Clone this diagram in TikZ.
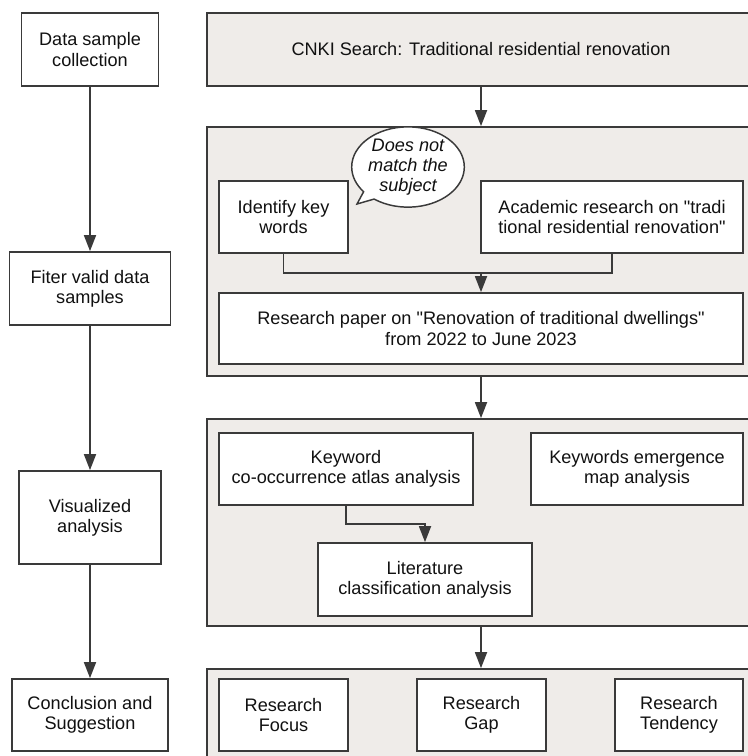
\documentclass[tikz,border=0pt]{standalone}
\usepackage{fontspec}
\setmainfont{Liberation Sans}[Ligatures=TeXOff]
\usetikzlibrary{positioning}
\usetikzlibrary{arrows.meta}
\usetikzlibrary{shapes.callouts}

\definecolor{panelgrey}{HTML}{EFECE9}
\definecolor{linegrey}{HTML}{3A3A3A}
\definecolor{textblack}{HTML}{111111}

\begin{document}
\begin{tikzpicture}[ x = 0.75pt, y = -0.75pt
                   , font = \fontsize{13.6}{15.2}\selectfont
                   , text = textblack
                   , >={Triangle[width=9pt, length=12pt]}
                   , every node/.style = { rectangle
                                       , align = center
                                       , inner sep = 0pt }
                   ]
  \useasboundingbox (0,0) rectangle (748,756);

  %%
  %% Nodes
  %%
  \tikzset{ box/.style={draw=linegrey, fill=white, line width=1.3pt}
          , panel/.style={draw=linegrey, fill=panelgrey, line width=1.3pt}
          , bubble/.style={ellipse callout, draw=linegrey, fill=white,
                           line width=1.1pt, font=\fontsize{13.6}{15.2}\selectfont\itshape}
          , link/.style={draw=linegrey, line width=1.3pt}
          }

  % Steps on the left.
  \node (collect) [box, minimum width=102.75pt, minimum height=54.75pt] at (90,49.5)
        {Data sample\\collection};
  \node (filter) [box, minimum width=120.75pt, minimum height=54.75pt] at (90,288.5)
        {Fiter valid data\\samples};
  \node (visual) [box, minimum width=106.5pt, minimum height=69.75pt] at (90,517.5)
        {Visualized\\analysis};
  \node (conclude) [box, minimum width=117pt, minimum height=54pt] at (90,715)
        {Conclusion and\\Suggestion};

  % Panels on the right.
  \node (cnki) [panel, minimum width=411pt, minimum height=54.75pt] at (481,49.5)
        {CNKI Search: Traditional residential renovation};
  \node (pfilter) [panel, minimum width=414.75pt, minimum height=186.75pt] at (483.5,251.5) {};
  \node (pvisual) [panel, minimum width=414.75pt, minimum height=155.25pt] at (483.5,522.5) {};
  \node (presult) [panel, minimum width=414.75pt, minimum height=90.75pt] at (483.5,729.5) {};

  \node (keywords) [box, minimum width=96.75pt, minimum height=54pt] at (283.5,217)
        {Identify key\\words};
  \node (academic) [box, minimum width=196.5pt, minimum height=54pt] at (612,217)
        {Academic research on "tradi\\tional residential renovation"};
  \node (papers) [box, minimum width=393pt, minimum height=53.25pt] at (481,328.5)
        {Research paper on "Renovation of traditional dwellings"\\from 2022 to June 2023};
  \node (nomatch) [bubble, minimum width=78pt, minimum height=56pt,
                   callout absolute pointer={(357,204)}] at (408,167)
        {Does not\\match the\\subject};

  \node (cooccur) [box, minimum width=190.5pt, minimum height=54pt] at (346,469)
        {Keyword\\co-occurrence atlas analysis};
  \node (emerge) [box, minimum width=159pt, minimum height=54pt] at (637,469)
        {Keywords emergence\\map analysis};
  \node (classify) [box, minimum width=160.5pt, minimum height=54.75pt] at (425,579.5)
        {Literature\\classification analysis};

  \node (focus) [box, minimum width=96.75pt, minimum height=54pt] at (283.5,715)
        {Research\\Focus};
  \node (gap) [box, minimum width=96.75pt, minimum height=54pt] at (481.5,715)
        {Research\\Gap};
  \node (tendency) [box, minimum width=96pt, minimum height=54pt] at (679,715)
        {Research\\Tendency};

  \coordinate (join1) at (481,273);
  \coordinate (join2) at (425,524);

  %%
  %% Arrows
  %%
  % Left column.
  \draw[link, ->] (collect) -- (filter);
  \draw[link, ->] (filter) -- (visual);
  \draw[link, ->] (visual) -- (conclude);
  % Between the panels.
  \draw[link, ->] (cnki) -- (cnki |- pfilter.north);
  \draw[link, ->] (pfilter.south -| papers) -- (papers |- pvisual.north);
  \draw[link, ->] (pvisual.south -| papers) -- (papers |- presult.north);
  % Inside the panels.
  \draw[link] (keywords) |- (join1);
  \draw[link] (academic) |- (join1);
  \draw[link, ->] (join1) -- (papers);
  \draw[link, ->] (cooccur) |- (join2) -- (classify);
\end{tikzpicture}
\end{document}
